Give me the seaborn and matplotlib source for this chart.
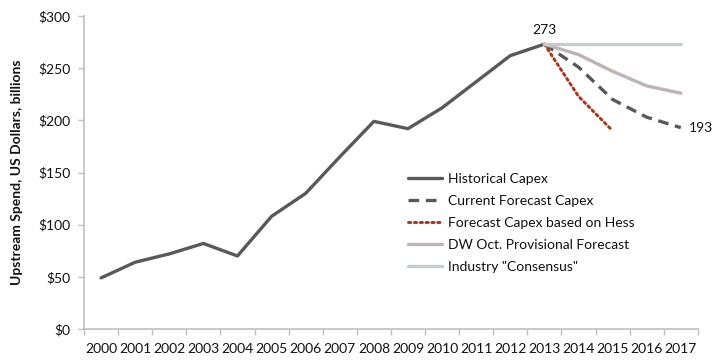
import matplotlib
matplotlib.use("Agg")
import matplotlib.pyplot as plt
import numpy as np
import pandas as pd
import seaborn as sns

# Upstream capital expenditure, US$ billions
years = list(range(2000, 2018))
historical = [49, 64, 72, 82, 70, 108, 130, 165, 199, 192, 212, 237, 262, 273]
forecast_years = [2013, 2014, 2015, 2016, 2017]
current_forecast = [273, 251, 220, 203, 193]
hess_years = [2013, 2014, 2015]
hess_forecast = [273, 223, 190]
dw_provisional = [273, 263, 247, 233, 226]
consensus = [273, 273, 273, 273, 273]

sns.set_theme(style="white")
plt.rcParams["font.family"] = ["Lato", "DejaVu Sans"]

FS = 10

fig = plt.figure(figsize=(7.15, 3.61), dpi=100)
ax = fig.add_axes([0.1175, 0.0886, 0.8585, 0.8671])

def pos(yrs):
    return [years.index(y) for y in yrs]

series = [
    ("Historical Capex", years[:len(historical)], historical,
     dict(color="#595959", lw=2.4, linestyle="-")),
    ("Current Forecast Capex", forecast_years, current_forecast,
     dict(color="#595959", lw=2.4, linestyle=(0, (3.2, 2.0)))),
    ("Forecast Capex based on Hess", hess_years, hess_forecast,
     dict(color="#a8361b", lw=2.1, linestyle=(0, (0.8, 1.2)), dash_capstyle="round")),
    ("DW Oct. Provisional Forecast", forecast_years, dw_provisional,
     dict(color="#bfb3b3", lw=2.4, linestyle="-")),
    ("Industry \"Consensus\"", forecast_years, consensus,
     dict(color="#c3cfcf", lw=2.4, linestyle="-")),
]

for name, yrs, vals, style in series:
    df = pd.DataFrame({"x": pos(yrs), "y": vals})
    sns.lineplot(data=df, x="x", y="y", ax=ax, label=name, **style)

# value callouts
ax.annotate(f"{historical[-1]}", xy=(years.index(2013), historical[-1]),
            xytext=(0, 6), textcoords="offset points", ha="center", va="bottom",
            fontsize=FS, color="#111111")
ax.annotate(f"{current_forecast[-1]}", xy=(years.index(2017), current_forecast[-1]),
            xytext=(6, 0), textcoords="offset points", ha="left", va="center",
            fontsize=FS, color="#111111")

ax.set_xlim(-0.5, len(years) - 0.5)
ax.set_ylim(0, 300)
ax.set_yticks(np.arange(0, 301, 50))
ax.set_yticklabels([f"${v}" for v in range(0, 301, 50)])
ax.set_xticks(range(len(years)))
ax.set_xticklabels([str(y) for y in years])
ax.set_xticks(np.arange(-0.5, len(years)), minor=True)

ax.tick_params(axis="x", which="major", length=0, pad=10, labelsize=FS, labelcolor="#111111")
ax.tick_params(axis="x", which="minor", length=4, width=1, color="#bfbfbf", direction="out", bottom=True)
ax.tick_params(axis="y", length=4, width=1, color="#bfbfbf", direction="out", pad=6,
               labelsize=FS, labelcolor="#111111", left=True)

for side in ("top", "right"):
    ax.spines[side].set_visible(False)
for side in ("left", "bottom"):
    ax.spines[side].set_color("#bfbfbf")
    ax.spines[side].set_linewidth(1.2)

ax.set_xlabel("")
ax.set_ylabel("Upstream Spend, US Dollars, billions", fontsize=FS, fontweight="bold",
              color="#111111", labelpad=11)

leg = ax.legend(loc="upper left", bbox_to_anchor=(408 / 715, 1 - 173 / 361),
                bbox_transform=fig.transFigure, frameon=False, fontsize=FS,
                handlelength=2.45, handletextpad=0.45, labelspacing=0.72,
                borderaxespad=0, borderpad=0)
for t in leg.get_texts():
    t.set_color("#111111")

fig.savefig("out.png", dpi=100)
